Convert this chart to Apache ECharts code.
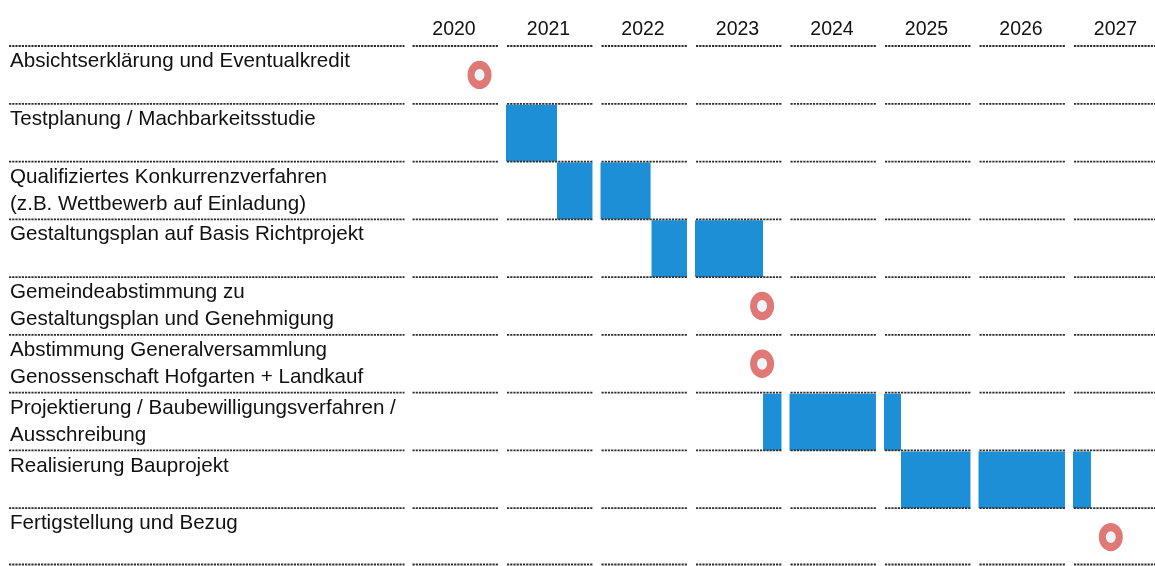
<!DOCTYPE html>
<html><head><meta charset="utf-8">
<script src="https://cdn.jsdelivr.net/npm/echarts@6/dist/echarts.min.js"></script>
<style>html,body{margin:0;padding:0;background:#fff}#c{width:1155px;height:566px}</style>
</head><body><div id="c"></div>
<script>
// ---- data ----
const tasks = [
  'Absichtserklärung und Eventualkredit',
  'Testplanung / Machbarkeitsstudie',
  'Qualifiziertes Konkurrenzverfahren\n(z.B. Wettbewerb auf Einladung)',
  'Gestaltungsplan auf Basis Richtprojekt',
  'Gemeindeabstimmung zu\nGestaltungsplan und Genehmigung',
  'Abstimmung Generalversammlung\nGenossenschaft Hofgarten + Landkauf',
  'Projektierung / Baubewilligungsverfahren /\nAusschreibung',
  'Realisierung Bauprojekt',
  'Fertigstellung und Bezug'
];
const years = ['2020', '2021', '2022', '2023', '2024', '2025', '2026', '2027'];
const barTask  = [1, 2, 3, 6, 7];
const barStart = [2021.00, 2021.54, 2022.54, 2023.72, 2025.18];
const barEnd   = [2021.54, 2022.53, 2023.72, 2025.18, 2027.19];
const milestoneTask = [0, 4, 5, 8];
const milestoneTime = [2020.72, 2023.71, 2023.71, 2027.40];

// ---- styling / layout ----
const BAR = '#1c8fd6';
const RING = '#e07875';
const CONTENT = 0.915;      // filled share of each year column (rest is the gap)
const GRID_LEFT = 411.5;
const YEAR_PX = 94.5;       // width of one year column in pixels
const LABEL_X = 10;
const FONT = '"Liberation Sans", Arial, sans-serif';
const firstYear = Number(years[0]);
const HEAD_SHIFT = 42.5;    // year headings sit over the filled part of each column

const chart = echarts.init(document.getElementById('c'), null, {renderer: 'canvas'});

const barData = barTask.map((t, i) => [barStart[i], barEnd[i], t]);
const msData = milestoneTime.map((x, i) => [x, milestoneTask[i]]);
const sepData = tasks.map((_, i) => [firstYear, i]);

function renderBar(params, api) {
  const s = api.value(0), e = api.value(1), t = api.value(2);
  const c = api.coord([s, t]);
  const h = api.size([0, 1])[1];
  const top = c[1] - h / 2;
  const children = [];
  for (let y = Math.floor(s); y < e; y++) {
    const a = Math.max(s, y), b = Math.min(e, y + CONTENT);
    if (b <= a) continue;
    const x0 = api.coord([a, t])[0], x1 = api.coord([b, t])[0];
    children.push({type: 'rect', shape: {x: x0, y: top + 1, width: x1 - x0, height: h - 1},
      style: {fill: BAR}});
  }
  return {type: 'group', children};
}

function renderSep(params, api) {
  const t = api.value(1);
  const c = api.coord([firstYear, t]);
  const h = api.size([0, 1])[1];
  const ys = [c[1] - h / 2];
  if (t === tasks.length - 1) ys.push(c[1] + h / 2 - 1.5);
  const children = [];
  const st = {stroke: '#2e2e2e', lineWidth: 1.8, lineDash: [2.2, 1]};
  ys.forEach(y => {
    children.push({type: 'line', shape: {x1: LABEL_X - 1, y1: y, x2: c[0] - 7, y2: y}, style: st});
    for (let k = 0; k < years.length; k++) {
      const yr = firstYear + k;
      const xa = api.coord([yr, t])[0] + 1;
      const xb = api.coord([yr + CONTENT, t])[0];
      children.push({type: 'line', shape: {x1: xa, y1: y, x2: xb, y2: y}, style: st});
    }
  });
  return {type: 'group', children};
}

function renderMs(params, api) {
  const p = api.coord([api.value(0), api.value(1)]);
  return {
    type: 'circle', x: p[0], y: p[1], scaleY: 1.18,
    shape: {cx: 0, cy: 0, r: 8.5},
    style: {fill: 'rgba(225,238,246,0.6)', stroke: RING, lineWidth: 7}
  };
}

chart.setOption({
  backgroundColor: '#ffffff',
  animation: false,
  grid: [
    {left: GRID_LEFT, top: 46, right: 0, height: 520},
    {left: GRID_LEFT + HEAD_SHIFT, top: 46, width: YEAR_PX * (years.length - 1), height: 520}
  ],
  xAxis: [
    {type: 'value', gridIndex: 0, min: firstYear, max: firstYear + (1155 - GRID_LEFT) / YEAR_PX,
     interval: 1, show: false},
    {type: 'category', gridIndex: 1, data: years, boundaryGap: false, position: 'top',
     axisLine: {show: false}, axisTick: {show: false}, splitLine: {show: false},
     axisLabel: {interval: 0, margin: 6, fontSize: 19.5, lineHeight: 20, color: '#111',
                 fontFamily: FONT}}
  ],
  yAxis: [
    {type: 'category', gridIndex: 0, data: tasks, inverse: true,
     axisLine: {show: false}, axisTick: {show: false}, splitLine: {show: false},
     axisLabel: {interval: 0, align: 'left', margin: GRID_LEFT - LABEL_X, fontSize: 20.6,
                 lineHeight: 27, verticalAlign: 'middle',
                 color: '#111', fontFamily: FONT,
                 formatter: v => v.includes('\n') ? v : v + '\n '}},
    {type: 'value', gridIndex: 1, show: false}
  ],
  series: [
    {type: 'custom', renderItem: renderBar, data: barData, encode: {x: [0, 1], y: 2}, z: 2},
    {type: 'custom', renderItem: renderSep, data: sepData, encode: {x: 0, y: 1}, z: 3, silent: true},
    {type: 'custom', renderItem: renderMs, data: msData, encode: {x: 0, y: 1}, z: 4}
  ]
});
</script>
</body></html>
